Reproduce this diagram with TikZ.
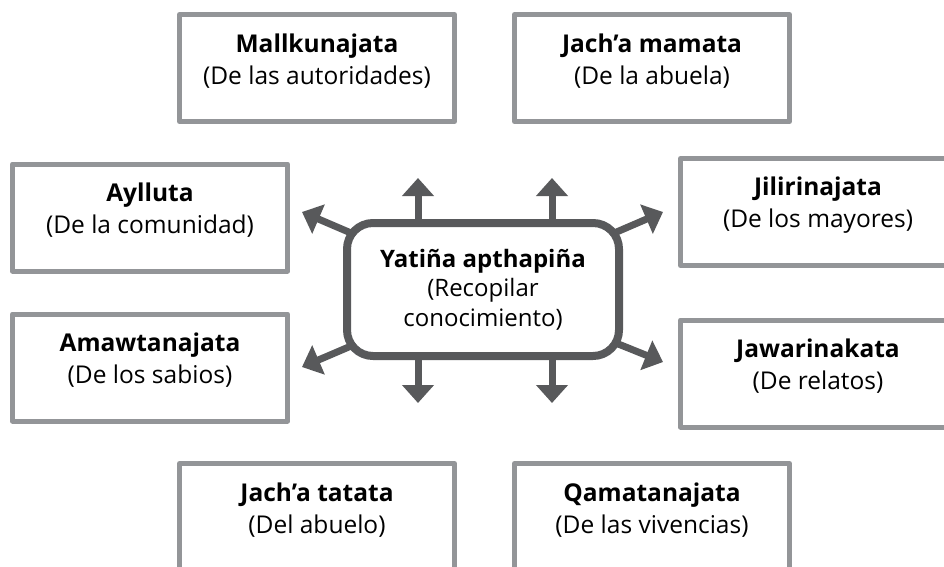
\documentclass[tikz,border=0pt]{standalone}
\usepackage{fontspec}
\setmainfont{Open Sans}
\usetikzlibrary{arrows.meta,backgrounds}
\definecolor{gris}{RGB}{147,149,152}
\definecolor{oscuro}{RGB}{88,89,91}
\begin{document}
\begin{tikzpicture}[x=1pt,y=-1pt,line join=round,
	caja/.style={draw=gris,line width=5pt,minimum width=275pt,minimum height=107pt,inner sep=0pt},
	rotulo/.style={align=center,yshift=7pt,font=\fontsize{24.5}{32}\selectfont},
	flecha/.style={draw=oscuro,line width=7pt,-{Triangle[length=18pt,width=31pt]}}]
	\useasboundingbox (0,0) rectangle (944,566);
	\clip (0,0) rectangle (944,566);
	
	% recuadros de alrededor
	\node[caja] (mallku) at (317,68) {};
	\node[rotulo] (mallku-t) at (mallku) {\textbf{Mallkunajata}\\(De las autoridades)};
	\node[caja] (mama) at (652,68) {};
	\node[rotulo] (mama-t) at (mama) {\textbf{Jach’a mamata}\\(De la abuela)};
	\node[caja] (ayllu) at (150,217.5) {};
	\node[rotulo] (ayllu-t) at (ayllu) {\textbf{Aylluta}\\(De la comunidad)};
	\node[caja] (amawta) at (150,367.5) {};
	\node[rotulo] (amawta-t) at (amawta) {\textbf{Amawtanajata}\\(De los sabios)};
	\node[caja] (jiliri) at (818,212) {};
	\node[rotulo] (jiliri-t) at (jiliri) {\textbf{Jilirinajata}\\(De los mayores)};
	\node[caja] (jawari) at (818,373.5) {};
	\node[rotulo] (jawari-t) at (jawari) {\textbf{Jawarinakata}\\(De relatos)};
	\node[caja] (tata) at (317,517) {};
	\node[rotulo] (tata-t) at (tata) {\textbf{Jach’a tatata}\\(Del abuelo)};
	\node[caja] (qamata) at (652,517) {};
	\node[rotulo] (qamata-t) at (qamata) {\textbf{Qamatanajata}\\(De las vivencias)};
	
	% recuadro central
	\node[draw=oscuro,fill=white,line width=8pt,rounded corners=26pt,minimum width=272pt,minimum height=133pt,
		align=center,font=\fontsize{24}{29.5}\selectfont] (centro) at (483,289.5)
		{\textbf{Yatiña apthapiña}\\(Recopilar\\conocimiento)};
	
	% puntas de las flechas
	\coordinate (pn1) at (418,178);
	\coordinate (pn2) at (552,178);
	\coordinate (ps1) at (418,403);
	\coordinate (ps2) at (552,403);
	\coordinate (pno) at (302,212);
	\coordinate (pso) at (302,367);
	\coordinate (pne) at (663,212);
	\coordinate (pse) at (663,362);
	
	\begin{pgfonlayer}{background}
		\foreach \p in {pn1,pn2,ps1,ps2}
			\draw[flecha] (\p |- centro.center) -- (\p);
		\foreach \p in {pno,pso,pne,pse}
			\draw[flecha] (centro.center) -- (\p);
	\end{pgfonlayer}
\end{tikzpicture}
\end{document}
